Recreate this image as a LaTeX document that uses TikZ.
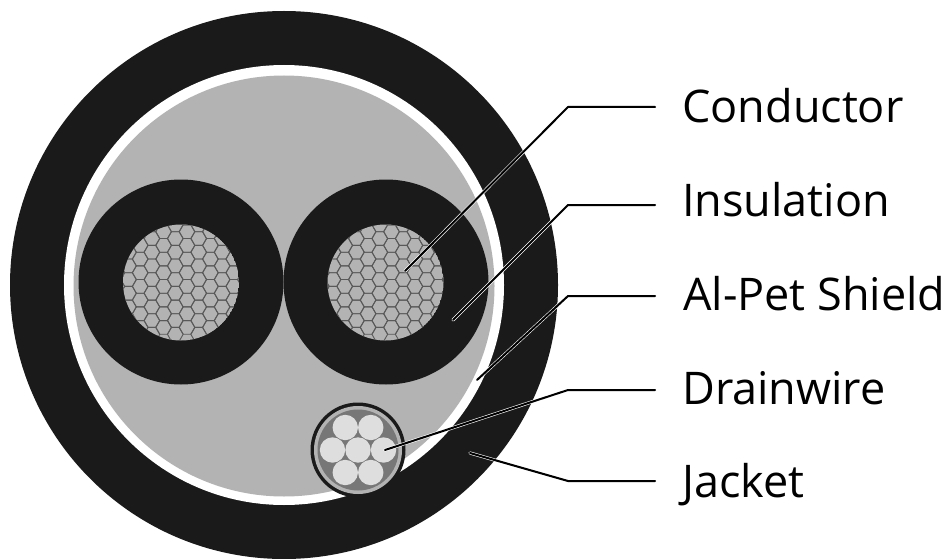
\documentclass[tikz,border=0pt]{standalone}
\usepackage{fontspec}
\setmainfont{Open Sans}
\definecolor{jk}{HTML}{1A1A1A}
\definecolor{gy}{HTML}{B3B3B3}
\definecolor{hexl}{HTML}{595959}
\definecolor{dw}{HTML}{777777}
\definecolor{strand}{HTML}{DEDEDE}
\tikzset{
  lab/.style={anchor=base west,inner sep=0pt,font=\fontsize{45}{45}\selectfont,text=black},
  halo/.style={draw=white,line width=3.2pt,line cap=round,line join=round},
  lead/.style={draw=black,line width=2pt,line cap=round,line join=round},
  hexs/.style={draw=hexl,line width=0.9pt}
}
\newcommand{\hexgrid}[2]{%
  \begin{scope}
    \clip (#1,#2) circle (58);
    \fill[gy] (#1,#2) circle (58);
    \foreach \i in {-6,...,6}{
      \foreach \j in {-7,...,7}{
        \pgfmathsetmacro{\cx}{#1+6+11.7*\i}
        \pgfmathsetmacro{\cy}{#2-50.8+13.67*\j+6.835*mod(abs(\i),2)}
        \draw[hexs] (\cx+7.9,\cy)--(\cx+3.95,\cy+6.835)--(\cx-3.95,\cy+6.835)--(\cx-7.9,\cy)--(\cx-3.95,\cy-6.835)--(\cx+3.95,\cy-6.835)--cycle;
      }
    }
  \end{scope}
}
\begin{document}
\begin{tikzpicture}[x=1pt,y=-1pt]
\useasboundingbox (0,0) rectangle (947,559);
\fill[jk] (284,285) circle (274);
\fill[white] (284,285) circle (220);
\fill[gy] (284,286) circle (210.5);
\fill[jk] (181,282) circle (102.5);
\fill[jk] (386,282) circle (102.5);
\hexgrid{181}{282.5}
\hexgrid{385.5}{282.5}
% drainwire
\fill[jk] (358,450) circle (47.5);
\fill[gy] (358,450) circle (44);
\fill[dw] (358,450) circle (40.5);
\foreach \a/\b in {0/0,25.5/0,-25.5/0,12.75/-22.5,-12.75/-22.5,12.75/22.5,-12.75/22.5}
  \fill[strand] (358+\a,450+\b) circle (12.7);
% anchors
\coordinate (c0) at (405,271); \coordinate (c1) at (568,107); \coordinate (c2) at (655,107);
\coordinate (i0) at (453,320); \coordinate (i1) at (568,205); \coordinate (i2) at (655,205);
\coordinate (a0) at (477,380); \coordinate (a1) at (568,296); \coordinate (a2) at (655,296);
\coordinate (d0) at (385,450); \coordinate (d1) at (568,390); \coordinate (d2) at (655,390);
\coordinate (j0) at (470,453); \coordinate (j1) at (568,481); \coordinate (j2) at (655,481);
\foreach \p in {c,i,a,d,j}{
  \draw[halo] (\p0)--(\p1)--(\p2);
}
\foreach \p in {c,i,a,d,j}{
  \draw[lead] (\p0)--(\p1)--(\p2);
}
\node[lab] (lc) at (682,122.7) {Conductor};
\node[lab] (li) at (682,216) {Insulation};
\node[lab] (la) at (683,310.7) {Al-Pet Shield};
\node[lab] (ld) at (682,404) {Drainwire};
\node[lab] (lj) at (682,497.3) {Jacket};
\end{tikzpicture}
\end{document}
